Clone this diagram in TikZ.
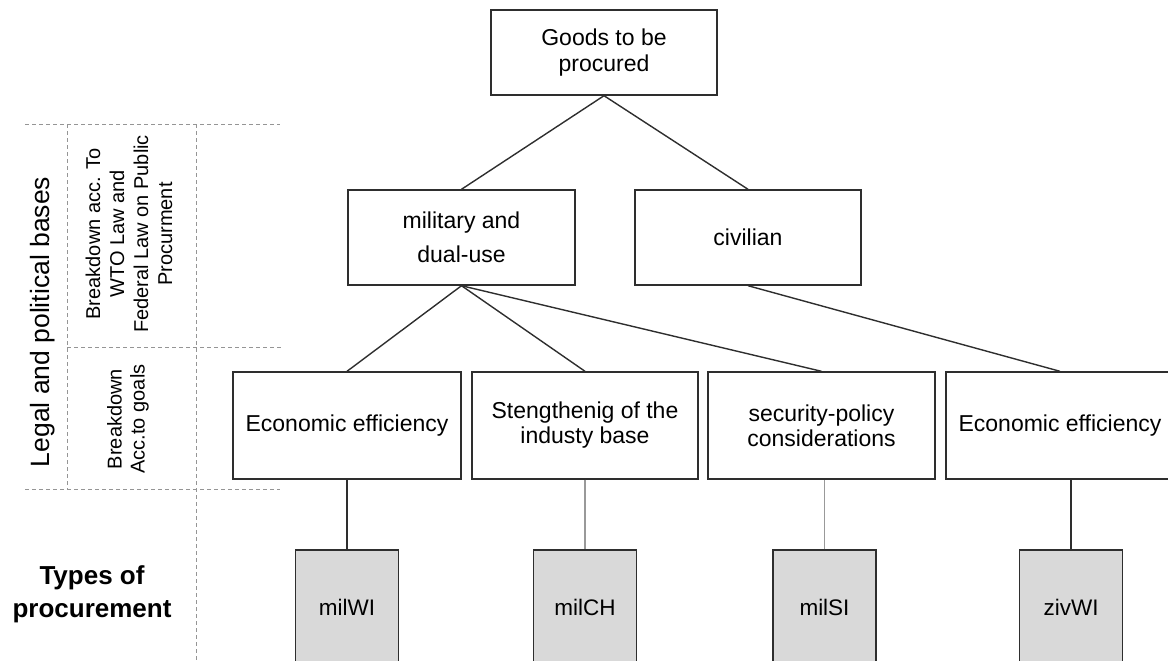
\documentclass[tikz,border=0pt]{standalone}
\usepackage{fontspec}
\setmainfont{Liberation Sans}
\definecolor{boxgrey}{HTML}{D9D9D9}
\definecolor{rulegrey}{HTML}{959595}
\definecolor{edge}{HTML}{2E2E2E}
\begin{document}
\begin{tikzpicture}[x=1pt,y=-1pt,
  box/.style={draw=edge, line width=1.4pt, fill=white, inner sep=0pt, align=center,
    minimum width=227pt, font=\fontsize{23}{25}\selectfont},
  goalbox/.style={box, minimum height=107pt},
  typebox/.style={draw=edge, line width=1.4pt, fill=boxgrey, inner sep=0pt,
    minimum width=103pt, minimum height=114pt, font=\fontsize{22.5}{26}\selectfont},
  link/.style={draw=edge, line width=1.4pt},
  lightlink/.style={draw=black!40, line width=1.4pt},
  guide/.style={draw=rulegrey, line width=1pt, dash pattern=on 4pt off 3pt},
  sidelabel/.style={rotate=90, align=center}]
\useasboundingbox (0,0) rectangle (1168,661);

% dashed frame of the side labels
\draw[guide] (25,124) -- (280,124);
\draw[guide] (67,347) -- (283,347);
\draw[guide] (25,489) -- (280,489);
\draw[guide] (67,124) -- (67,489);
\draw[guide] (196,124) -- (196,661);

% side labels
\node[sidelabel, font=\fontsize{26.5}{30}\selectfont] (legal) at (43,322) {Legal and political bases};
\node[sidelabel, font=\fontsize{20}{24}\selectfont] (wto) at (129,234)
  {Breakdown acc. To\\WTO Law and\\Federal Law on Public\\Procurment};
\node[sidelabel, font=\fontsize{20}{23}\selectfont] (goals) at (128,419) {Breakdown\\Acc.to goals};
\node[align=center, font=\bfseries\fontsize{26}{33}\selectfont] (types) at (92,594) {Types of\\procurement};

% tree of goods
\node[box, minimum width=226pt, minimum height=85pt, font=\fontsize{23}{26}\selectfont]
  (goods) at (604,52.5) {Goods to be\\procured};
\node[box, minimum height=95pt, font=\fontsize{23}{34}\selectfont] (mil) at (461.5,237.5) {military and\\dual-use};
\node[box, minimum width=226pt, minimum height=95pt] (civ) at (748,237.5) {civilian};

\node[goalbox, minimum width=228pt] (g1) at (347,425.5) {Economic efficiency};
\node[goalbox, minimum width=226pt] (g2) at (585,425.5) {Stengthenig of the\\industy base};
\node[goalbox] (g3) at (821.5,425.5) {security-policy\\considerations};
\node[goalbox, minimum width=228pt] (g4) at (1060,425.5) {Economic efficiency};

\node[typebox] (t1) at (347,607) {milWI};
\node[typebox] (t2) at (585,607) {milCH};
\node[typebox] (t3) at (824.5,607) {milSI};
\node[typebox] (t4) at (1071,607) {zivWI};

% connectors
\draw[link] (goods.south) -- (mil.north);
\draw[link] (goods.south) -- (civ.north);
\draw[link] (mil.south) -- (g1.north);
\draw[link] (mil.south) -- (g2.north);
\draw[link] (mil.south) -- (g3.north);
\draw[link] (civ.south) -- (g4.north);
\draw[link] (g1.south) -- (t1.north);
\draw[lightlink] (g2.south) -- (t2.north);
\draw[lightlink] (t3.north) -- (t3.north |- g3.south);
\draw[link] (t4.north) -- (t4.north |- g4.south);
\end{tikzpicture}
\end{document}
